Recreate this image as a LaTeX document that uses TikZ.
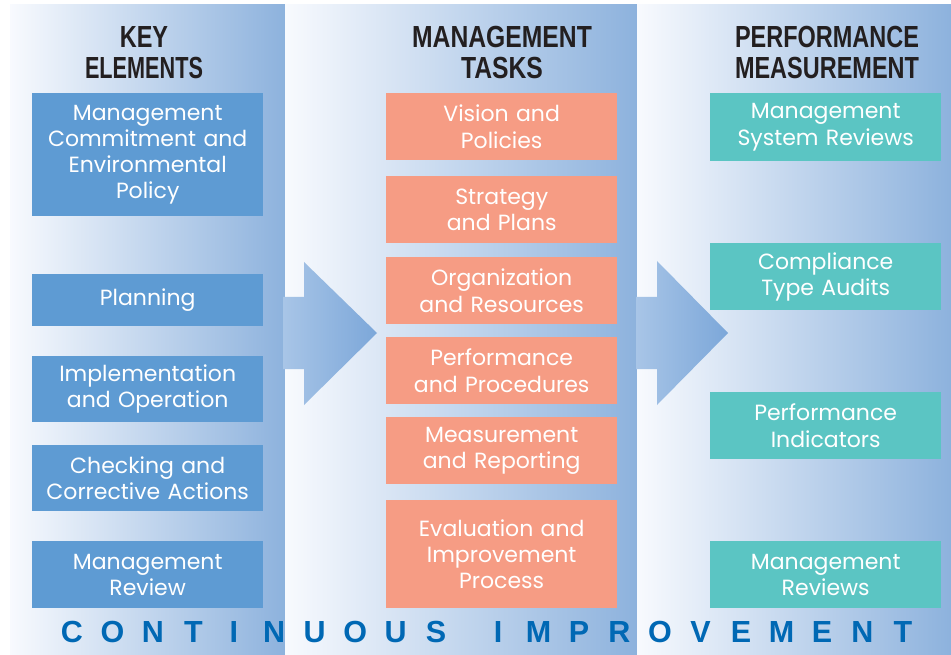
\documentclass[tikz,border=0pt]{standalone}
\usepackage{graphicx}
\usepackage{fontspec}
\setmainfont{Poppins}
\newfontfamily\headfont{Liberation Sans}
\usetikzlibrary{calc}
\definecolor{keyblue}{RGB}{94,155,211}
\definecolor{taskred}{RGB}{246,156,132}
\definecolor{measgreen}{RGB}{91,197,195}
\definecolor{panelleft}{RGB}{248,250,254}
\definecolor{panelright}{RGB}{141,178,221}
\definecolor{arrowleft}{RGB}{168,197,231}
\definecolor{arrowright}{RGB}{124,167,217}
\definecolor{ciblue}{RGB}{0,104,180}
\definecolor{headblack}{RGB}{35,31,32}
\newcommand\cnd[2][0.77]{\scalebox{#1}[1]{#2}}
\tikzset{x=1pt, y=-1pt,
  panel/.style = {left color=panelleft, right color=panelright},
  bigarrow/.style = {left color=arrowleft, right color=arrowright},
  head/.style = {text=headblack, align=center, inner sep=0pt,
    font=\headfont\bfseries\fontsize{30.5}{31}\selectfont},
  box/.style = {text=white, align=center, inner sep=0pt, anchor=north west,
    minimum width=231, text width=229,
    font=\fontsize{22}{26.3}\selectfont},
  keybox/.style = {box, fill=keyblue},
  taskbox/.style = {box, fill=taskred},
  measbox/.style = {box, fill=measgreen},
  ciletter/.style = {text=ciblue, inner sep=0pt,
    font=\headfont\bfseries\fontsize{30.5}{31}\selectfont}}

\begin{document}
\begin{tikzpicture}
  \useasboundingbox (0,0) rectangle (951,655);
  % columns
  \path[panel] (10,5) rectangle (285,655);
  \path[panel] (285,5) rectangle (637,655);
  \path[panel] (637,5) rectangle (951,655);
  % arrows between the columns
  \path[bigarrow] (283,297) -- (304,297) -- (304,262) -- (377,333)
    -- (304,405) -- (304,369) -- (283,369) -- cycle;
  \path[bigarrow] (636,297) -- (657,297) -- (657,261) -- (728,333)
    -- (657,405) -- (657,369) -- (636,369) -- cycle;

  \node[head] (hke) at (144,53) {\cnd{KEY}\\\cnd[0.71]{ELEMENTS}};
  \node[head] (hmt) at (502,53) {\cnd[0.81]{MANAGEMENT}\\\cnd[0.81]{TASKS}};
  \node[head] (hpm) at (827,53) {\cnd{PERFORMANCE}\\\cnd{MEASUREMENT}};

  \node[keybox, minimum height=123] (ke1) at (32,93)
    {Management\\Commitment and\\Environmental\\Policy};
  \node[keybox, minimum height=52] (ke2) at (32,274) {Planning};
  \node[keybox, minimum height=66] (ke3) at (32,356)
    {Implementation\\and Operation};
  \node[keybox, minimum height=66] (ke4) at (32,445)
    {Checking and\\Corrective Actions};
  \node[keybox, minimum height=67] (ke5) at (32,541)
    {Management\\Review};

  \node[taskbox, minimum height=67] (mt1) at (386,93) {Vision and\\Policies};
  \node[taskbox, minimum height=67] (mt2) at (386,176) {Strategy\\and Plans};
  \node[taskbox, minimum height=67] (mt3) at (386,257)
    {Organization\\and Resources};
  \node[taskbox, minimum height=67] (mt4) at (386,337)
    {Performance\\and Procedures};
  \node[taskbox, minimum height=67] (mt5) at (386,417)
    {Measurement\\and Reporting};
  \node[taskbox, minimum height=108] (mt6) at (386,500)
    {Evaluation and\\Improvement\\Process};

  \node[measbox, minimum height=68] (pm1) at (710,93)
    {Management\\System Reviews};
  \node[measbox, minimum height=67] (pm2) at (710,243)
    {Compliance\\Type Audits};
  \node[measbox, minimum height=67] (pm3) at (710,392)
    {Performance\\Indicators};
  \node[measbox, minimum height=67] (pm4) at (710,541)
    {Management\\Reviews};

  % continuous improvement
  \foreach \l [count=\i from 0] in {C,O,N,T,I,N,U,O,U,S}
    \node[ciletter] (ca\i) at (72+40.45*\i,632) {\l};
  \foreach \l [count=\i from 0] in {I,M,P,R,O,V,E,M,E,N,T}
    \node[ciletter] (cb\i) at (498+40.5*\i,632) {\l};
\end{tikzpicture}
\end{document}
